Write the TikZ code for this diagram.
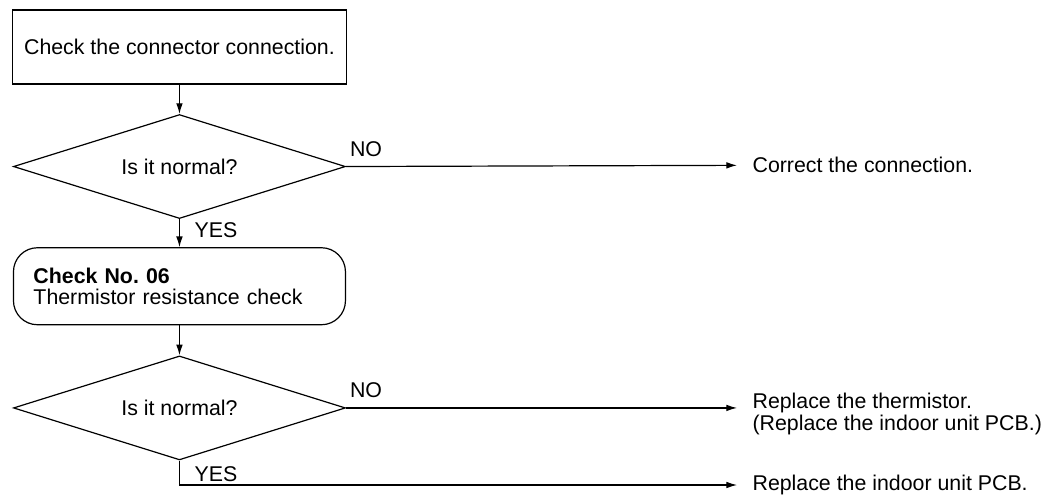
\documentclass[tikz,border=0pt]{standalone}
\usepackage{fontspec}
\setmainfont{Liberation Sans}
\usetikzlibrary{positioning,arrows.meta,shapes.geometric}

\begin{document}
\begin{tikzpicture}[
  node distance=22pt,
  font=\fontsize{16}{16}\selectfont,
  line width=0.9pt,
  block/.style={draw, minimum width=251pt, minimum height=55.5pt, align=center},
  checkbox/.style={draw, rounded corners=18pt, text width=219pt, inner xsep=15pt, minimum height=57.75pt, align=left},
  decision/.style={draw, diamond, aspect=3.19, inner sep=0pt, minimum width=249pt, minimum height=78pt},
  result/.style={anchor=west, inner xsep=11.25pt, inner ysep=0pt, align=left},
  answer/.style={anchor=base west, inner sep=0pt},
  arrow/.style={-{Latex[length=8pt,width=5pt]}}
]
\useasboundingbox (0,0) rectangle (787.5pt,-372pt);
\node[block] (check) at (134.6pt,-35.25pt) {Check the connector connection.};
\node[decision, below=of check] (normal1) {Is it normal?};
\node[checkbox, below=21pt of normal1] (thermo) {\textbf{Check No.\ 06}\\Thermistor resistance check};
\node[decision, below=22.5pt of thermo] (normal2) {Is it normal?};
\node[result] (fixconn) at (552.75pt,-124pt) {Correct the connection.};
\node[result] (fixtherm) at (552.75pt,-310.5pt) {Replace the thermistor.\\(Replace the indoor unit PCB.)};
\node[result] (fixpcb) at (552.75pt,-363.75pt) {Replace the indoor unit PCB.};
\node[answer] (no1) at ([xshift=2.5pt,yshift=7.5pt]normal1.east) {NO};
\node[answer] (yes1) at ([xshift=11pt,yshift=-13.5pt]normal1.south) {YES};
\node[answer] (no2) at ([xshift=2.5pt,yshift=7.5pt]normal2.east) {NO};
\node[answer] (yes2) at ([xshift=11pt,yshift=-15.5pt]normal2.south) {YES};
\draw[arrow] (check) -- (normal1);
\draw[arrow] (normal1) -- (thermo);
\draw[arrow] (thermo) -- (normal2);
\draw[arrow] (normal1.east) -- (fixconn.west);
\draw[arrow] (normal2.east) -- (normal2.east -| fixtherm.west);
\draw[arrow] (normal2.south) |- (fixpcb.west);
\end{tikzpicture}
\end{document}
